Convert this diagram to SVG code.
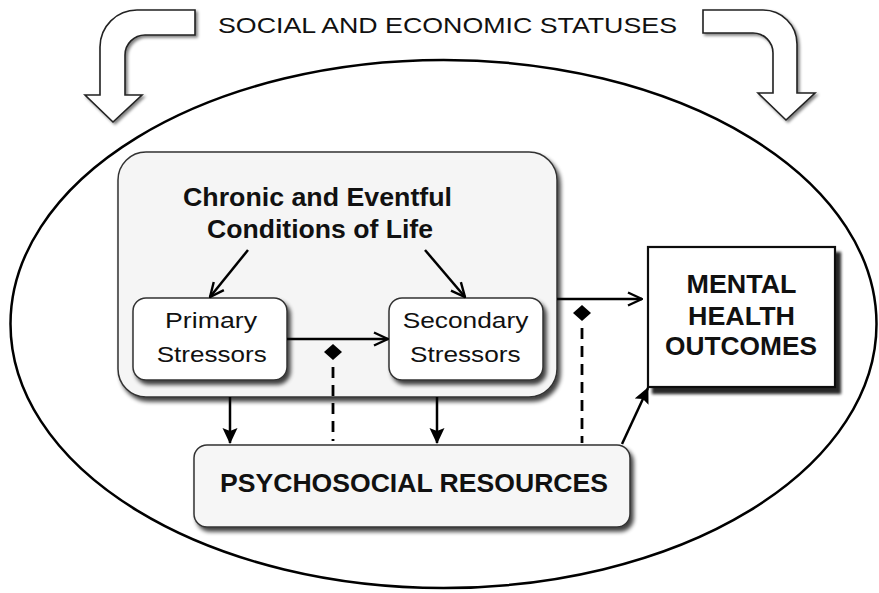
<svg xmlns="http://www.w3.org/2000/svg" width="879" height="593" viewBox="0 0 879 593">
<style>
.t{font-family:"Liberation Sans",Arial,Helvetica,sans-serif;fill:#111;text-anchor:middle}
.b{font-weight:bold}
.ln{stroke:#000;stroke-width:2.5;fill:none}
.dash{stroke:#000;stroke-width:2.8;fill:none;stroke-dasharray:11 7}
.blk{fill:#fff;stroke:#222;stroke-width:1.6}
</style>
<defs>
<filter id="sh" x="-10%" y="-10%" width="130%" height="140%">
<feGaussianBlur in="SourceAlpha" stdDeviation="2.2"/>
<feOffset dx="3" dy="4"/>
<feComponentTransfer><feFuncA type="linear" slope="0.75"/></feComponentTransfer>
<feMerge><feMergeNode/><feMergeNode in="SourceGraphic"/></feMerge>
</filter>
<filter id="sh2" x="-10%" y="-10%" width="130%" height="140%">
<feGaussianBlur in="SourceAlpha" stdDeviation="1.8"/>
<feOffset dx="5" dy="6"/>
<feComponentTransfer><feFuncA type="linear" slope="0.85"/></feComponentTransfer>
<feMerge><feMergeNode/><feMergeNode in="SourceGraphic"/></feMerge>
</filter>
<filter id="inner" x="-20%" y="-20%" width="140%" height="140%">
<feGaussianBlur in="SourceAlpha" stdDeviation="1.5"/>
<feOffset dx="1.5" dy="1.5"/>
<feComponentTransfer><feFuncA type="linear" slope="0.5"/></feComponentTransfer>
<feMerge><feMergeNode/><feMergeNode in="SourceGraphic"/></feMerge>
</filter>
<marker id="open" viewBox="0 0 16 16" refX="15" refY="8" markerWidth="16" markerHeight="16" markerUnits="userSpaceOnUse" orient="auto">
<path d="M1,1.5 L15,8 L1,14.5" fill="none" stroke="#000" stroke-width="2.4"/>
</marker>
<marker id="fill" viewBox="0 0 16 16" refX="15" refY="8" markerWidth="16" markerHeight="16" markerUnits="userSpaceOnUse" orient="auto">
<path d="M0,0.5 L16,8 L0,15.5 L3,8 Z" fill="#000"/>
</marker>
</defs>
<rect width="879" height="593" fill="#fff"/>

<g id="ses">
<path class="blk" filter="url(#inner)" d="M195,10 H137 A37,37 0 0 0 100,47 V95 H85 L113,122 L142,95 H125 V55 A20,20 0 0 1 145,35 H195 Z"/>
<path class="blk" filter="url(#inner)" d="M703,10 H763 A34,34 0 0 1 797,44 V93 H815 L786,120 L758,93 H773 V53 A20,20 0 0 0 753,33 H703 Z"/>
<text class="t" x="447.5" y="33" font-size="22" textLength="459" lengthAdjust="spacingAndGlyphs" fill="#222">SOCIAL AND ECONOMIC STATUSES</text>
</g>

<g id="context">
<ellipse cx="443.5" cy="324" rx="433" ry="264" fill="none" stroke="#000" stroke-width="2.5"/>
</g>

<g id="conditions">
<rect x="118" y="152" width="439" height="245" rx="28" fill="#f5f5f5" stroke="#333" stroke-width="1.5" filter="url(#sh)"/>
<text class="t b" x="317.5" y="206" font-size="25" textLength="269" lengthAdjust="spacingAndGlyphs">Chronic and Eventful</text>
<text class="t b" x="320" y="238" font-size="25" textLength="226" lengthAdjust="spacingAndGlyphs">Conditions of Life</text>
</g>

<g id="primary">
<rect x="133" y="298" width="154" height="82" rx="13" fill="#fff" stroke="#333" stroke-width="1.5" filter="url(#sh)"/>
<text class="t" x="211" y="328" font-size="22" textLength="92" lengthAdjust="spacingAndGlyphs" fill="#222">Primary</text>
<text class="t" x="211.7" y="362" font-size="22" textLength="110" lengthAdjust="spacingAndGlyphs" fill="#222">Stressors</text>
</g>

<g id="secondary">
<rect x="389" y="298" width="154" height="82" rx="13" fill="#fff" stroke="#333" stroke-width="1.5" filter="url(#sh)"/>
<text class="t" x="465.5" y="328" font-size="22" textLength="125.7" lengthAdjust="spacingAndGlyphs" fill="#222">Secondary</text>
<text class="t" x="465.3" y="362" font-size="22" textLength="110.7" lengthAdjust="spacingAndGlyphs" fill="#222">Stressors</text>
</g>

<g id="resources">
<rect x="194" y="445" width="436" height="82" rx="13" fill="#f6f6f6" stroke="#333" stroke-width="1.5" filter="url(#sh)"/>
<text class="t b" x="414" y="492" font-size="25" textLength="388" lengthAdjust="spacingAndGlyphs">PSYCHOSOCIAL RESOURCES</text>
</g>

<g id="outcomes">
<rect x="648" y="247" width="187" height="140" fill="#fff" stroke="#111" stroke-width="2.2" filter="url(#sh2)"/>
<text class="t b" x="741.5" y="293" font-size="25" textLength="110" lengthAdjust="spacingAndGlyphs">MENTAL</text>
<text class="t b" x="741.5" y="325" font-size="25" textLength="107" lengthAdjust="spacingAndGlyphs">HEALTH</text>
<text class="t b" x="741" y="355" font-size="25" textLength="152" lengthAdjust="spacingAndGlyphs">OUTCOMES</text>
</g>

<g id="connectors">
<line class="ln" x1="248" y1="250" x2="210" y2="297" marker-end="url(#open)"/>
<line class="ln" x1="425" y1="250" x2="465" y2="297" marker-end="url(#open)"/>
<line class="ln" x1="287" y1="339" x2="388" y2="339" marker-end="url(#open)"/>
<line class="ln" x1="557" y1="299" x2="642" y2="299" marker-end="url(#open)"/>
<line class="ln" x1="230" y1="397" x2="230" y2="443" marker-end="url(#fill)"/>
<line class="ln" x1="437" y1="397" x2="437" y2="443" marker-end="url(#fill)"/>
<line class="ln" x1="622" y1="444" x2="648" y2="388" marker-end="url(#fill)"/>
<path d="M333,344 L342,352 L333,360 L324,352 Z" fill="#000"/>
<line class="dash" x1="333" y1="367" x2="333" y2="441"/>
<path d="M582,305 L591,313 L582,321 L573,313 Z" fill="#000"/>
<line class="dash" x1="582" y1="328" x2="582" y2="443"/>
</g>
</svg>
